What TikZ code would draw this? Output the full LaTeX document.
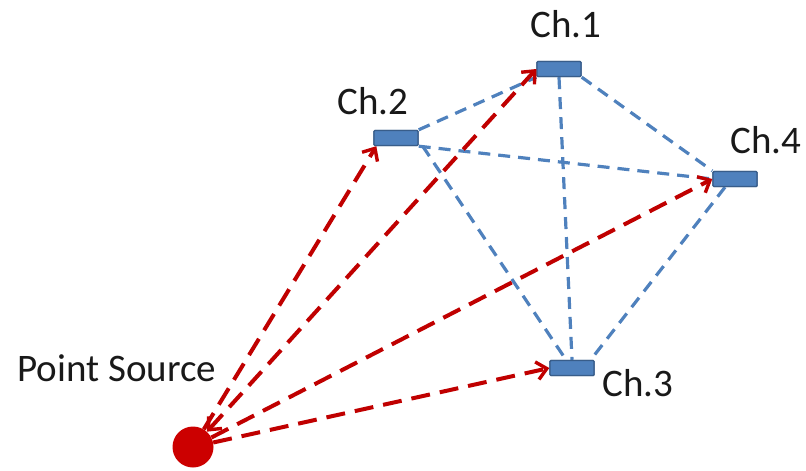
\documentclass[tikz,border=0pt]{standalone}
\usepackage{fontspec}
\setmainfont{Carlito}
\usetikzlibrary{arrows.meta}
\definecolor{rd}{RGB}{192,0,0}
\definecolor{srcred}{RGB}{204,0,0}
\definecolor{bl}{RGB}{79,129,189}
\definecolor{bldark}{RGB}{56,93,138}
\begin{document}
\begin{tikzpicture}[x=1pt,y=-1pt,
  chan/.style={draw=bldark,fill=bl,line width=1.4pt,minimum width=44pt,minimum height=15pt,inner sep=0pt,rounded corners=1pt},
  lbl/.style={font=\fontsize{39}{44}\selectfont,text=black!90,inner sep=0pt},
  link/.style={draw=bl,line width=3.2pt,dash pattern=on 12pt off 8pt},
  tip/.style={},
  ray/.style={draw=rd,line width=4pt,dash pattern=on 19pt off 10pt,-{Straight Barb[length=10pt,width=18pt,line width=3.4pt]}},
  ray2/.style={draw=rd,line width=4pt,dash pattern=on 19pt off 10pt,{Straight Barb[length=10pt,width=18pt,line width=3.4pt]}-{Straight Barb[length=10pt,width=18pt,line width=3.4pt]}}]
\useasboundingbox (0,0) rectangle (806,471);
\node[chan] (c1) at (559,69) {};
\node[chan] (c2) at (396,138) {};
\node[chan] (c4) at (735,179) {};
\node[chan] (c3) at (572,368) {};
\node[circle,fill=srcred,minimum size=41pt,inner sep=0pt] (src) at (193,447) {};
% blue links
\draw[link] (c2.north east) -- (c1.south west);
\draw[link] (c2.south east) -- (c4.west);
\draw[link] ([xshift=4pt]c2.south east) -- ([xshift=-6pt]c3.north);
\draw[link] (c1.south) -- (c3.north);
\draw[link] (c1.south east) -- (c4.north west);
\draw[link] ([xshift=-10pt]c4.south) -- ([xshift=-4pt]c3.north east);
% redraw channels on top
\node[chan] at (c1) {};
\node[chan] at (c2) {};
\node[chan] at (c4) {};
\node[chan] at (c3) {};
% red rays
\draw[ray] (src) -- ([xshift=3pt]c2.south west);
\draw[ray2] (src) -- (c1.west);
\draw[ray] (src) -- (c4.west);
\draw[ray] (src) -- (c3.west);
% labels
\node[lbl] (l1) at (566,24) {Ch.1};
\node[lbl] (l2) at (373,101) {Ch.2};
\node[lbl] (l4) at (766,140) {Ch.4};
\node[lbl] (l3) at (638,383) {Ch.3};
\node[lbl] (ls) at (117,368) {Point Source};
\end{tikzpicture}
\end{document}
